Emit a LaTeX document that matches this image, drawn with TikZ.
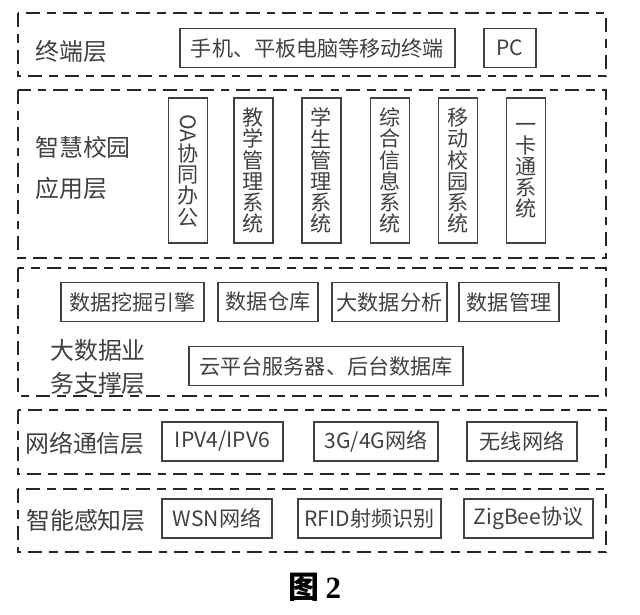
\documentclass[tikz,border=0pt]{standalone}
\usepackage{fontspec}
\newfontfamily\cjk{Noto Sans CJK SC}
\newfontfamily\numfont{Liberation Serif}
\usetikzlibrary{positioning}

\begin{document}
\begin{tikzpicture}[x=0.025cm, y=-0.025cm,
    layer/.style={draw=black!85, line width=1.6pt, dash pattern=on 10pt off 5pt on 6pt off 5pt},
    box/.style={draw=black!75, line width=1pt, rectangle, inner sep=2pt, text=black!75,
        minimum height=0.97cm, font=\cjk\fontsize{15pt}{15pt}\selectfont},
    vbox/.style={box, align=center, minimum width=0.975cm, minimum height=3.625cm,
        text width=0.6cm},
    lbl/.style={anchor=west, inner sep=0pt, text=black!75, font=\cjk\fontsize{17pt}{17pt}\selectfont}]

    \useasboundingbox (0,0) rectangle (640,614);

    % Dashed frames of the five layers
    \draw[layer] (18,13) rectangle (606,76);
    \draw[layer] (18,90) rectangle (606,258);
    \draw[layer] (18,268) rectangle (606,396);
    \draw[layer] (18,410) rectangle (606,474);
    \draw[layer] (18,489) rectangle (606,552);

    % Terminal layer
    \node[lbl] (LT) at (35,52) {终端层};
    \node[box, minimum width=6.875cm] (T1) at (317.5,48) {手机、平板电脑等移动终端};
    \node[box, minimum width=1.3cm] (T2) at (510,48) {PC};

    % Application layer
    \node[lbl] (LA1) at (35,147) {智慧校园};
    \node[lbl] (LA2) at (35,188) {应用层};
    \node[vbox] (A1) at (188,170.5) {\rotatebox{-90}{OA}\\协\\同\\办\\公};
    \node[vbox] (A2) at (253.5,170.5) {教\\学\\管\\理\\系\\统};
    \node[vbox] (A3) at (321.5,170.5) {学\\生\\管\\理\\系\\统};
    \node[vbox] (A4) at (390,170.5) {综\\合\\信\\息\\系\\统};
    \node[vbox] (A5) at (458,170.5) {移\\动\\校\\园\\系\\统};
    \node[vbox] (A6) at (526,170.5) {一\\卡\\通\\系\\统};

    % Big data support layer
    \node[lbl] (LD1) at (50,350) {大数据业};
    \node[lbl] (LD2) at (50,384) {务支撑层};
    \node[box, minimum width=3.575cm] (D1) at (132.5,302) {数据挖掘引擎};
    \node[box, minimum width=2.5cm] (D2) at (268,302) {数据仓库};
    \node[box, minimum width=2.875cm] (D3) at (389.5,302) {大数据分析};
    \node[box, minimum width=2.5cm] (D4) at (509,302) {数据管理};
    \node[box, minimum width=6.85cm] (D5) at (326,366) {云平台服务器、后台数据库};

    % Network layer
    \node[lbl] (LN) at (25,443) {网络通信层};
    \node[box, minimum width=3.025cm] (N1) at (222.5,441.5) {IPV4/IPV6};
    \node[box, minimum width=3.1cm] (N2) at (376,441.5) {3G/4G网络};
    \node[box, minimum width=2.75cm] (N3) at (522,441.5) {无线网络};

    % Sensing layer
    \node[lbl] (LS) at (26,520) {智能感知层};
    \node[box, minimum width=2.75cm] (S1) at (217,518.5) {WSN网络};
    \node[box, minimum width=3.575cm] (S2) at (369.5,518.5) {RFID射频识别};
    \node[box, minimum width=3.225cm] (S3) at (528.5,518.5) {ZigBee协议};

    % Caption
    \node[inner sep=0pt] (CAP) at (315,587)
        {\fontsize{22pt}{22pt}\selectfont{\cjk\bfseries 图}\hspace{4pt}{\numfont\bfseries 2}};

\end{tikzpicture}
\end{document}
